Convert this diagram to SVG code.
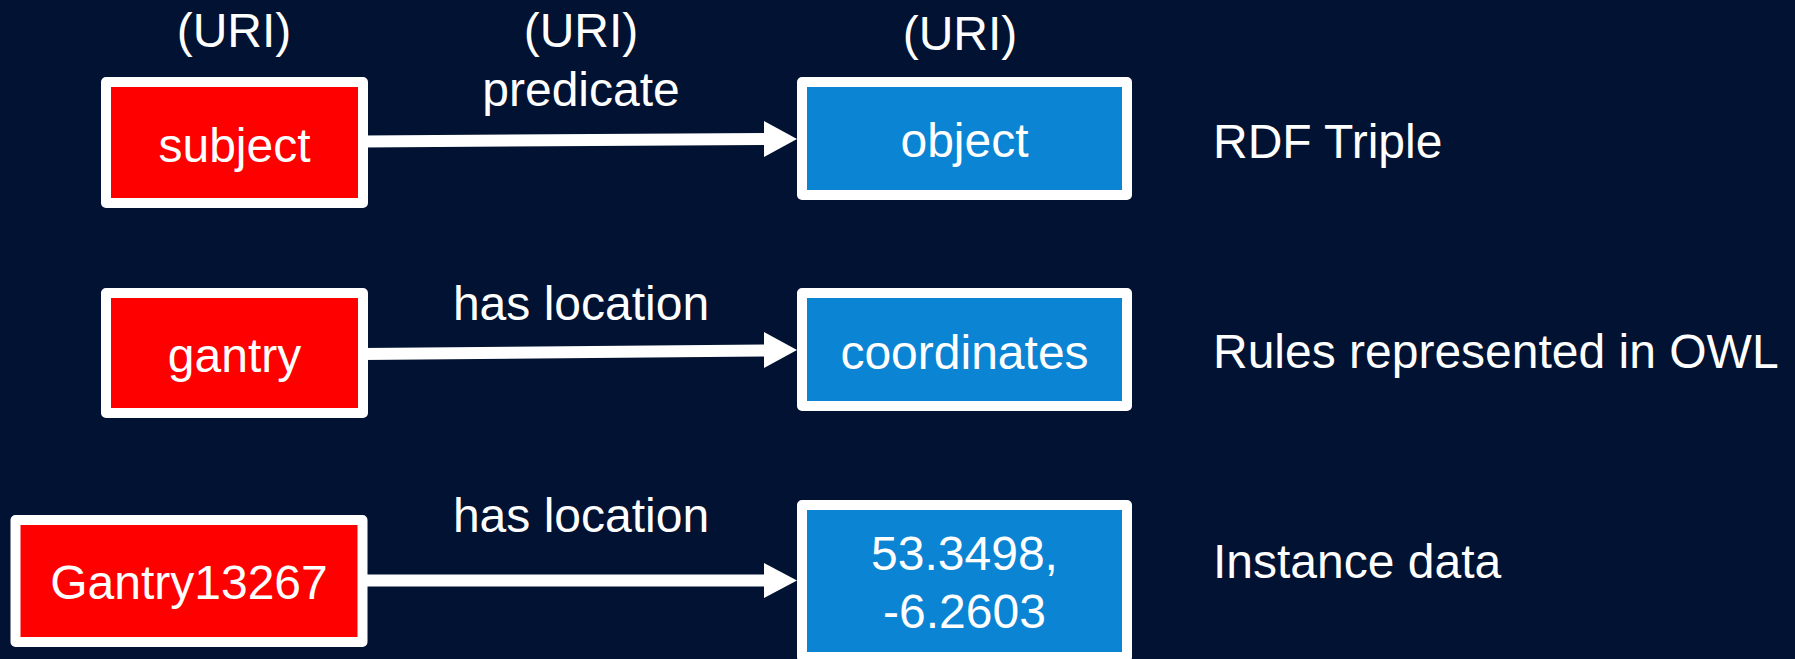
<svg xmlns="http://www.w3.org/2000/svg" width="1795" height="659" viewBox="0 0 1795 659">
  <style>
    text { font-family: "Liberation Sans", Arial, sans-serif; font-size: 48px; fill: #ffffff; }
    .c { text-anchor: middle; }
    .box { stroke: #ffffff; stroke-width: 10; stroke-linejoin: round; }
    .subj { fill: #ff0000; }
    .obj { fill: #0b84d4; }
    .edge { stroke: #ffffff; stroke-width: 12; fill: none; }
    .head { fill: #ffffff; }
  </style>

  <rect x="0" y="0" width="1795" height="659" fill="#011232"/>

  <!-- header annotations -->
  <g id="uri-labels">
    <text class="c" x="234" y="47">(URI)</text>
    <text class="c" x="581" y="47">(URI)</text>
    <text class="c" x="960" y="50">(URI)</text>
  </g>

  <!-- connectors with their predicate labels -->
  <g id="connectors">
    <line class="edge" x1="363" y1="141.5" x2="766" y2="139"/>
    <polygon class="head" points="764,121 797,139 764,157"/>
    <text class="c" x="581" y="106">predicate</text>

    <line class="edge" x1="363" y1="354" x2="766" y2="350.5"/>
    <polygon class="head" points="764,332 797,350 764,368"/>
    <text class="c" x="581" y="320">has location</text>

    <line class="edge" x1="363" y1="580.5" x2="766" y2="580.5"/>
    <polygon class="head" points="764,563 797,580.5 764,598"/>
    <text class="c" x="581" y="532">has location</text>
  </g>

  <!-- row 1: generic triple -->
  <g id="node-subject">
    <rect class="box subj" x="106" y="82" width="257" height="121"/>
    <text class="c" x="234.5" y="162">subject</text>
  </g>
  <g id="node-object">
    <rect class="box obj" x="802" y="82" width="325" height="113"/>
    <text class="c" x="964.5" y="157">object</text>
  </g>

  <!-- row 2: ontology rule -->
  <g id="node-gantry">
    <rect class="box subj" x="106" y="293" width="257" height="120"/>
    <text class="c" x="234.5" y="372">gantry</text>
  </g>
  <g id="node-coordinates">
    <rect class="box obj" x="802" y="293" width="325" height="113"/>
    <text class="c" x="964.5" y="369">coordinates</text>
  </g>

  <!-- row 3: instance -->
  <g id="node-gantry13267">
    <rect class="box subj" x="15.5" y="520" width="347" height="122"/>
    <text class="c" x="189" y="599">Gantry13267</text>
  </g>
  <g id="node-location-value">
    <rect class="box obj" x="802" y="505" width="325" height="152"/>
    <text class="c" x="964.5" y="570">53.3498,</text>
    <text class="c" x="964.5" y="628">-6.2603</text>
  </g>

  <!-- row descriptions -->
  <g id="row-labels">
    <text x="1213" y="158">RDF Triple</text>
    <text x="1213" y="368">Rules represented in OWL</text>
    <text x="1213" y="578">Instance data</text>
  </g>
</svg>
